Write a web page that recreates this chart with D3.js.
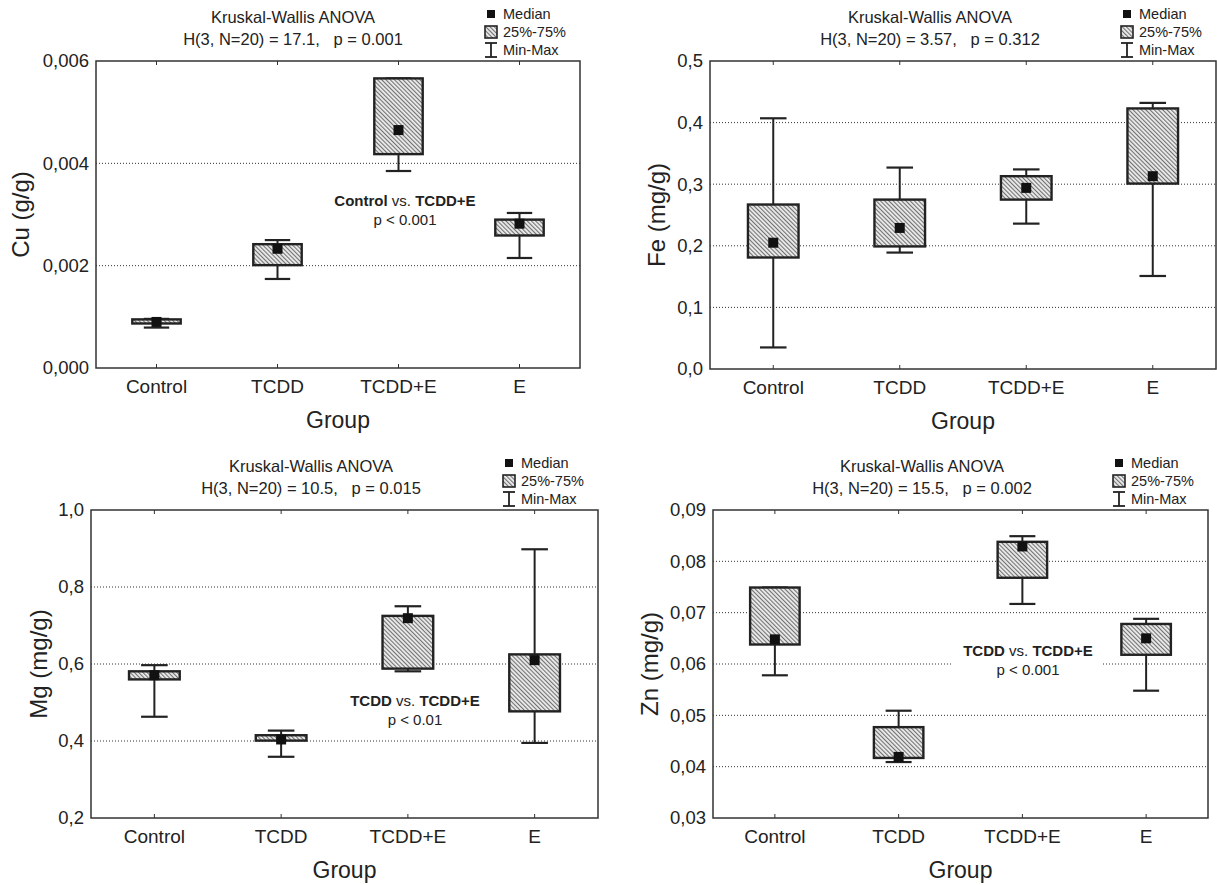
<!DOCTYPE html>
<html>
<head>
<meta charset="utf-8">
<title>Kruskal-Wallis box plots</title>
<script src="https://cdn.jsdelivr.net/npm/d3@7"></script>
<style>
  body { margin: 0; background: #fff; }
  text { font-family: "Liberation Sans", Arial, sans-serif; fill: #222; }
</style>
</head>
<body>
<div class="chart-area"></div>
<script>
// groups on the x axis
var groups = ["Control", "TCDD", "TCDD+E", "E"];

// Cu (g/g)
var cuMin = [0.00079, 0.00174, 0.00385, 0.00215];
var cuQ1  = [0.00087, 0.00201, 0.00418, 0.00259];
var cuMed = [0.00090, 0.00233, 0.00465, 0.00282];
var cuQ3  = [0.00095, 0.00242, 0.00566, 0.00290];
var cuMax = [0.00096, 0.00250, 0.00566, 0.00303];
var cuTicks = [0, 0.002, 0.004, 0.006];

// Fe (mg/g)
var feMin = [0.035, 0.189, 0.236, 0.151];
var feQ1  = [0.181, 0.199, 0.275, 0.301];
var feMed = [0.205, 0.229, 0.294, 0.313];
var feQ3  = [0.267, 0.275, 0.313, 0.423];
var feMax = [0.407, 0.327, 0.324, 0.432];
var feTicks = [0, 0.1, 0.2, 0.3, 0.4, 0.5];

// Mg (mg/g)
var mgMin = [0.463, 0.359, 0.581, 0.395];
var mgQ1  = [0.560, 0.401, 0.588, 0.477];
var mgMed = [0.571, 0.404, 0.719, 0.610];
var mgQ3  = [0.581, 0.415, 0.725, 0.625];
var mgMax = [0.597, 0.427, 0.750, 0.898];
var mgTicks = [0.2, 0.4, 0.6, 0.8, 1.0];

// Zn (mg/g)
var znMin = [0.0578, 0.0409, 0.0717, 0.0548];
var znQ1  = [0.0638, 0.0417, 0.0768, 0.0618];
var znMed = [0.0648, 0.0419, 0.0829, 0.0650];
var znQ3  = [0.0749, 0.0477, 0.0838, 0.0678];
var znMax = [0.0749, 0.0509, 0.0849, 0.0688];
var znTicks = [0.03, 0.04, 0.05, 0.06, 0.07, 0.08, 0.09];

var panels = [
  { ylab: "Cu (g/g)", stat: "H(3, N=20) = 17.1,   p = 0.001", dec: 3,
    min: cuMin, q1: cuQ1, med: cuMed, q3: cuQ3, max: cuMax, ticks: cuTicks,
    left: 96, right: 580, top: 61, bottom: 368, titleX: 293, ylabX: 21,
    note: ["Control", "TCDD+E", "p < 0.001"], noteX: 405, noteY: 206 },
  { ylab: "Fe (mg/g)", stat: "H(3, N=20) = 3.57,   p = 0.312", dec: 1,
    min: feMin, q1: feQ1, med: feMed, q3: feQ3, max: feMax, ticks: feTicks,
    left: 710, right: 1216, top: 61, bottom: 369, titleX: 930, ylabX: 657 },
  { ylab: "Mg (mg/g)", stat: "H(3, N=20) = 10.5,   p = 0.015", dec: 1,
    min: mgMin, q1: mgQ1, med: mgMed, q3: mgQ3, max: mgMax, ticks: mgTicks,
    left: 91, right: 598, top: 510, bottom: 818, titleX: 311, ylabX: 39,
    note: ["TCDD", "TCDD+E", "p < 0.01"], noteX: 415, noteY: 706 },
  { ylab: "Zn (mg/g)", stat: "H(3, N=20) = 15.5,   p = 0.002", dec: 2,
    min: znMin, q1: znQ1, med: znMed, q3: znQ3, max: znMax, ticks: znTicks,
    left: 713, right: 1208, top: 510, bottom: 818, titleX: 922, ylabX: 650,
    note: ["TCDD", "TCDD+E", "p < 0.001"], noteX: 1028, noteY: 656 }
];

var svg = d3.select(".chart-area").append("svg")
    .attr("width", 1217)
    .attr("height", 885);

// hatch for the 25%-75% boxes
var pat = svg.append("defs").append("pattern")
    .attr("id", "hatch")
    .attr("patternUnits", "userSpaceOnUse")
    .attr("width", 3).attr("height", 3)
    .attr("patternTransform", "rotate(-45)");
pat.append("rect").attr("width", 3).attr("height", 3).attr("fill", "#ececec");
pat.append("line").attr("x1", 0.6).attr("y1", 0).attr("x2", 0.6).attr("y2", 3)
    .attr("stroke", "#555").attr("stroke-width", 0.9);

panels.forEach(function(p) {
  var g = svg.append("g");
  var x = d3.scaleBand().domain(groups).range([p.left, p.right]);
  var y = d3.scaleLinear()
      .domain([p.ticks[0], p.ticks[p.ticks.length - 1]])
      .range([p.bottom, p.top]);
  var fmt = function(v) { return d3.format("." + p.dec + "f")(v).replace(".", ","); };
  var bw = x.bandwidth() * 0.4, cw = x.bandwidth() * 0.21, cx = function(d) { return x(d) + x.bandwidth() / 2; };

  // dotted grid
  g.selectAll(".grid").data(p.ticks.slice(1, -1)).enter().append("line")
      .attr("x1", p.left).attr("x2", p.right)
      .attr("y1", function(d) { return y(d); }).attr("y2", function(d) { return y(d); })
      .attr("stroke", "#333").attr("stroke-width", 1).attr("stroke-dasharray", "1,2");

  // y tick labels
  g.append("g")
      .attr("transform", "translate(" + p.left + ",0)")
      .call(d3.axisLeft(y).tickValues(p.ticks).tickSize(0).tickPadding(7).tickFormat(fmt))
      .call(function(a) {
        a.select(".domain").remove();
        a.selectAll("text").attr("font-size", "18.5px").attr("font-family", "Liberation Sans, Arial, sans-serif").attr("fill", "#222");
      });

  // x axis labels
  g.append("g")
      .attr("transform", "translate(0," + p.bottom + ")")
      .call(d3.axisBottom(x).tickSize(0).tickPadding(12))
      .call(function(a) {
        a.select(".domain").remove();
        a.selectAll("text").attr("font-size", "19px").attr("font-family", "Liberation Sans, Arial, sans-serif").attr("fill", "#222");
      });

  // small ticks on top and bottom border
  g.selectAll(".tb").data(groups).enter().append("line")
      .attr("x1", cx).attr("x2", cx).attr("y1", p.bottom).attr("y2", p.bottom - 4)
      .attr("stroke", "#333").attr("stroke-width", 1);
  g.selectAll(".tt").data(groups).enter().append("line")
      .attr("x1", cx).attr("x2", cx).attr("y1", p.top).attr("y2", p.top + 4)
      .attr("stroke", "#333").attr("stroke-width", 1);

  // annotation with white backing
  if (p.note) {
    var an = g.append("g");
    var bg = an.append("rect").attr("fill", "#fff");
    var t1 = an.append("text").attr("x", p.noteX).attr("y", p.noteY)
        .attr("text-anchor", "middle").attr("font-size", "15px");
    t1.append("tspan").attr("font-weight", "bold").text(p.note[0]);
    t1.append("tspan").text(" vs. ");
    t1.append("tspan").attr("font-weight", "bold").text(p.note[1]);
    an.append("text").attr("x", p.noteX).attr("y", p.noteY + 19)
        .attr("text-anchor", "middle").attr("font-size", "15px").text(p.note[2]);
    bg.attr("x", p.noteX - 75).attr("y", p.noteY - 16).attr("width", 150).attr("height", 42);
  }

  var idx = d3.range(groups.length);
  // whiskers
  g.selectAll(".wh").data(idx).enter().append("line")
      .attr("x1", function(i) { return cx(groups[i]); }).attr("x2", function(i) { return cx(groups[i]); })
      .attr("y1", function(i) { return y(p.min[i]); }).attr("y2", function(i) { return y(p.max[i]); })
      .attr("stroke", "#222").attr("stroke-width", 2);
  ["min", "max"].forEach(function(k) {
    g.selectAll(".cap-" + k).data(idx).enter().append("line")
        .attr("x1", function(i) { return cx(groups[i]) - cw / 2; })
        .attr("x2", function(i) { return cx(groups[i]) + cw / 2; })
        .attr("y1", function(i) { return y(p[k][i]); }).attr("y2", function(i) { return y(p[k][i]); })
        .attr("stroke", "#222").attr("stroke-width", 2.2);
  });
  // boxes
  g.selectAll(".box").data(idx).enter().append("rect")
      .attr("x", function(i) { return cx(groups[i]) - bw / 2; })
      .attr("width", bw)
      .attr("y", function(i) { return y(p.q3[i]); })
      .attr("height", function(i) { return Math.max(y(p.q1[i]) - y(p.q3[i]), 1); })
      .attr("fill", "url(#hatch)").attr("stroke", "#222").attr("stroke-width", 2.4);
  // medians
  g.selectAll(".med").data(idx).enter().append("rect")
      .attr("x", function(i) { return cx(groups[i]) - 5; })
      .attr("y", function(i) { return y(p.med[i]) - 5; })
      .attr("width", 10).attr("height", 10).attr("fill", "#111");

  // frame
  g.append("rect")
      .attr("x", p.left).attr("y", p.top)
      .attr("width", p.right - p.left).attr("height", p.bottom - p.top)
      .attr("fill", "none").attr("stroke", "#333").attr("stroke-width", 1.5);

  // axis titles
  g.append("text")
      .attr("transform", "translate(" + p.ylabX + "," + ((p.top + p.bottom) / 2) + ") rotate(-90)")
      .attr("text-anchor", "middle").attr("dy", "0.35em")
      .attr("font-size", "24px").text(p.ylab);
  g.append("text")
      .attr("x", (p.left + p.right) / 2).attr("y", p.bottom + 60)
      .attr("text-anchor", "middle").attr("font-size", "23px").text("Group");

  // test header
  g.append("text").attr("x", p.titleX).attr("y", p.top - 38)
      .attr("text-anchor", "middle").attr("font-size", "16.5px").text("Kruskal-Wallis ANOVA");
  g.append("text").attr("x", p.titleX).attr("y", p.top - 16)
      .attr("text-anchor", "middle").attr("font-size", "16.5px")
      .style("white-space", "pre").text(p.stat);

  // legend
  var lx = p.right - 95, ly = p.top - 47, tx = lx + 18;
  g.append("rect").attr("x", lx + 2).attr("y", ly - 4).attr("width", 8).attr("height", 8).attr("fill", "#111");
  g.append("text").attr("x", tx).attr("y", ly).attr("dy", "0.35em").attr("font-size", "14.5px").text("Median");
  g.append("rect").attr("x", lx).attr("y", ly + 12).attr("width", 12).attr("height", 12)
      .attr("fill", "url(#hatch)").attr("stroke", "#222").attr("stroke-width", 1.6);
  g.append("text").attr("x", tx).attr("y", ly + 18).attr("dy", "0.35em").attr("font-size", "14.5px").text("25%-75%");
  g.append("line").attr("x1", lx + 6).attr("x2", lx + 6).attr("y1", ly + 29).attr("y2", ly + 43)
      .attr("stroke", "#222").attr("stroke-width", 1.8);
  g.append("line").attr("x1", lx).attr("x2", lx + 12).attr("y1", ly + 29).attr("y2", ly + 29)
      .attr("stroke", "#222").attr("stroke-width", 1.8);
  g.append("line").attr("x1", lx).attr("x2", lx + 12).attr("y1", ly + 43).attr("y2", ly + 43)
      .attr("stroke", "#222").attr("stroke-width", 1.8);
  g.append("text").attr("x", tx).attr("y", ly + 36).attr("dy", "0.35em").attr("font-size", "14.5px").text("Min-Max");
});
</script>
</body>
</html>
